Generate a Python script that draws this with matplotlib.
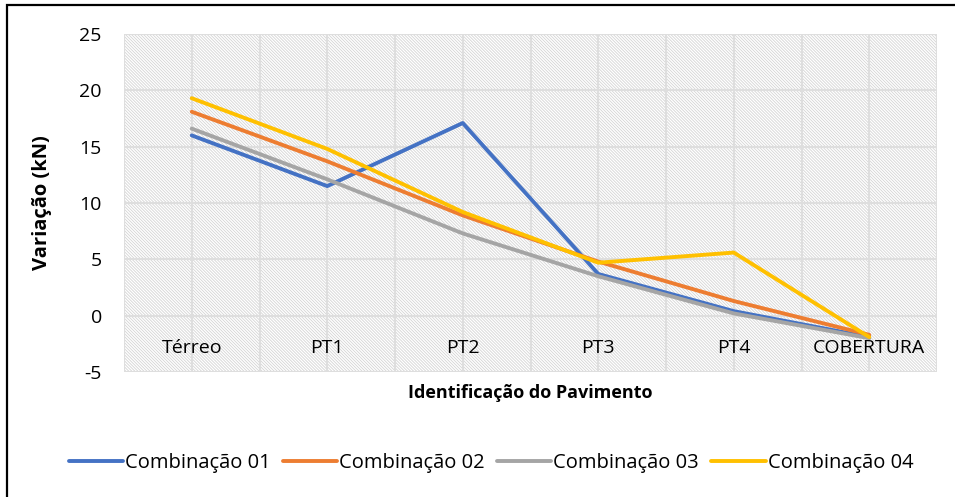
import matplotlib
matplotlib.use("Agg")
import matplotlib.pyplot as plt
from matplotlib.patches import Rectangle
import numpy as np

plt.rcParams['font.family'] = ['Open Sans', 'DejaVu Sans']
plt.rcParams['axes.unicode_minus'] = False
plt.rcParams['hatch.color'] = '#d4d4d4'
plt.rcParams['hatch.linewidth'] = 0.6

pavimentos = ["Térreo", "PT1", "PT2", "PT3", "PT4", "COBERTURA"]
comb_01 = [16.0, 11.5, 17.1, 3.7, 0.4, -1.9]
comb_02 = [18.1, 13.7, 8.9, 4.8, 1.3, -1.7]
comb_03 = [16.6, 12.1, 7.3, 3.5, 0.2, -2.0]
comb_04 = [19.3, 14.8, 9.2, 4.7, 5.6, -1.9]

series = [
    ("Combinação 01", comb_01, "#4472C4"),
    ("Combinação 02", comb_02, "#ED7D31"),
    ("Combinação 03", comb_03, "#A5A5A5"),
    ("Combinação 04", comb_04, "#FFC000"),
]

W, H = 955, 497
fig = plt.figure(figsize=(W / 100, H / 100), dpi=100)
ax = fig.add_axes([124 / W, 1 - 372 / H, (937 - 124) / W, (372 - 34) / H])

x = np.arange(len(pavimentos))
ax.set_xlim(-0.5, len(pavimentos) - 0.5)
ax.set_ylim(-5, 25)

# hatched plot area background
ax.add_patch(Rectangle((0, 0), 1, 1, transform=ax.transAxes, facecolor="white",
                       edgecolor="#d4d4d4", hatch="\\" * 11, linewidth=0, zorder=0))

# gridlines: every 5 units, and at category centres / boundaries
for v in range(-5, 26, 5):
    ax.axhline(v, color="#dedede", lw=1.5, zorder=1)
for xv in np.arange(-0.5, len(pavimentos), 0.5):
    ax.axvline(xv, color="#dedede", lw=1.5, zorder=1)

for name, vals, color in series:
    ax.plot(x, vals, color=color, lw=2.8, label=name, zorder=3,
            solid_capstyle="round", solid_joinstyle="round")

for s in ax.spines.values():
    s.set_visible(False)

ax.set_yticks(range(-5, 26, 5))
ax.tick_params(axis="y", length=0, pad=16, labelsize=14)
ax.set_xticks([])

# category labels sit below the zero line
for xi, name in zip(x, pavimentos):
    ax.annotate(name, (xi, 0), xytext=(0, -23), textcoords="offset points",
                ha="center", va="center", fontsize=14, zorder=5)

ax.set_ylabel("Variação (kN)", fontsize=14.5, fontweight="bold", labelpad=20)
fig.text(530 / W, 1 - 393 / H, "Identificação do Pavimento", fontsize=13,
         fontweight="bold", ha="center", va="center")

fig.legend(loc="center", bbox_to_anchor=(491 / W, 1 - 463 / H), ncol=4,
           frameon=False, fontsize=14.5, handlelength=2.7, handletextpad=0.1,
           columnspacing=0.6)

# chart frame
fig.patches.append(Rectangle((7 / W, -0.5), 1.5, 0.5 + 1 - 5 / H, fill=False,
                             edgecolor="black", lw=1.6, transform=fig.transFigure))

fig.savefig("out.png", dpi=100)
